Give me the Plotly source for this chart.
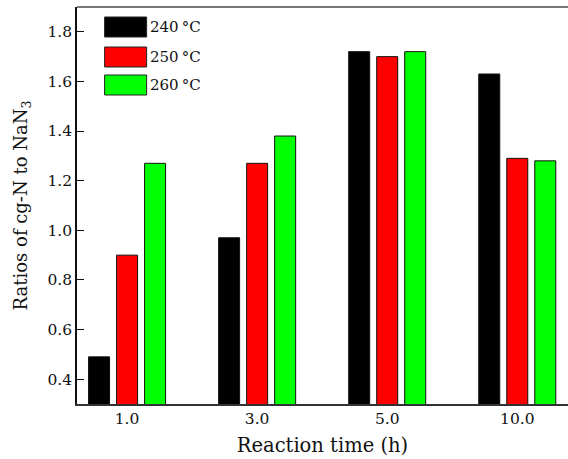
import plotly.graph_objects as go

categories = ["1.0", "3.0", "5.0", "10.0"]
series_names = ["240\u2009°C", "250\u2009°C", "260\u2009°C"]
vals_240 = [0.49, 0.97, 1.72, 1.63]
vals_250 = [0.90, 1.27, 1.70, 1.29]
vals_260 = [1.27, 1.38, 1.72, 1.28]
colors = ["#000000", "#ff0000", "#00ff00"]
y_ticks = [0.4, 0.6, 0.8, 1.0, 1.2, 1.4, 1.6, 1.8]

FONT = "DejaVu Serif"
xpos = list(range(len(categories)))

fig = go.Figure()
for name, vals, col in zip(series_names, [vals_240, vals_250, vals_260], colors):
    fig.add_trace(go.Bar(
        x=xpos, y=vals, name=name,
        marker=dict(color=col, line=dict(color="#111111", width=1)),
        showlegend=False,
    ))

# custom legend with large swatches
box_x0, box_x1 = 0.0562, 0.1418  # paper coords
row_tops = [17, 47, 75]
plot_top, plot_h = 7, 397
for i, (name, col) in enumerate(zip(series_names, colors)):
    y0 = 1 - (row_tops[i] - plot_top) / plot_h
    y1 = 1 - (row_tops[i] + 20 - plot_top) / plot_h
    fig.add_shape(type="rect", xref="paper", yref="paper",
                  x0=box_x0, x1=box_x1, y0=y1, y1=y0,
                  fillcolor=col, line=dict(color="#222222", width=1))
    fig.add_annotation(xref="paper", yref="paper", x=box_x1 + 0.003, y=(y0 + y1) / 2,
                       text=name, showarrow=False, xanchor="left", yanchor="middle",
                       font=dict(family=FONT, size=15, color="#111111"))

fig.add_shape(type="line", xref="paper", yref="paper", x0=0, x1=1, y0=1, y1=1,
              line=dict(color="#777777", width=2))

fig.update_layout(
    width=568, height=459,
    margin=dict(l=77, r=0, t=7, b=55),
    paper_bgcolor="white", plot_bgcolor="white",
    barmode="group", bargap=0.354, bargroupgap=0.25,
    font=dict(family=FONT, size=16, color="#111111"),
    xaxis=dict(
        range=[-0.385, 3.39], tickvals=xpos, ticktext=categories,
        showline=True, linecolor="#333333", linewidth=1.5,
        ticks="", showgrid=False, zeroline=False,
        tickfont=dict(size=15.5),
        title=dict(text="Reaction time (h)", font=dict(family=FONT, size=19.5), standoff=11),
    ),
    yaxis=dict(
        range=[0.3, 1.9], tickvals=y_ticks, tickformat=".1f",
        showline=True, linecolor="#111111", linewidth=1.5,
        ticks="inside", ticklen=7, tickwidth=1, tickcolor="#111111",
        showgrid=False, zeroline=False,
        tickfont=dict(size=15.5),
        title=dict(text="Ratios of cg-N to NaN<sub>3</sub>", font=dict(family=FONT, size=18), standoff=15),
    ),
)

fig.write_html("out.html")
